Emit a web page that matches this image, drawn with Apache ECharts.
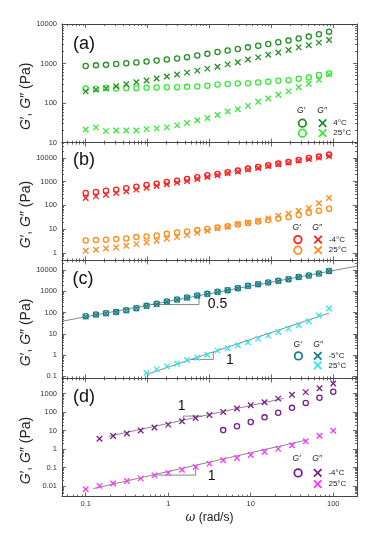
<!DOCTYPE html>
<html>
<head>
<meta charset="utf-8">
<script src="https://cdn.jsdelivr.net/npm/echarts@6/dist/echarts.min.js"></script>
<style>
  html, body { margin: 0; padding: 0; background: #fff; }
  #chart { width: 379px; height: 545px; }
</style>
</head>
<body>
<div id="chart"></div>
<script>
// angular frequency grids (rad/s)
const omega = [0.1, 0.133, 0.176, 0.234, 0.31, 0.411, 0.546, 0.724, 0.961, 1.28, 1.69, 2.25, 2.98,
  3.96, 5.25, 6.97, 9.25, 12.3, 16.3, 21.6, 28.7, 38.1, 50.5, 67, 89];
const omegaD = [0.1, 0.147, 0.215, 0.316, 0.464, 0.681, 1, 1.47, 2.15, 3.16, 4.64, 6.81, 10,
  14.7, 21.5, 31.6, 46.4, 68.1, 100];

// (a)
const gp4a = [868, 900, 925, 970, 1015, 1060, 1125, 1190, 1265, 1345, 1450, 1590, 1760, 1950, 2140,
  2330, 2570, 2820, 3120, 3450, 3800, 4280, 4800, 5500, 6400];
const gpp4a = [198, 219, 235, 267, 300, 335, 373, 420, 472, 530, 590, 662, 745, 830, 950, 1080, 1260,
  1430, 1660, 1910, 2190, 2560, 2900, 3380, 3950];
const gp25a = [232, 228, 240, 233, 237, 237, 243, 247, 251, 253, 257, 262, 275, 294, 305, 312, 318,
  332, 345, 366, 380, 412, 446, 511, 560];
const gpp25a = [21.5, 24.3, 19.5, 20.3, 20.3, 20.3, 21.9, 22.9, 24.3, 27.3, 31.3, 36.6, 42, 50, 61, 70,
  85, 108, 131, 163, 198, 251, 307, 389, 532];

// (b)
const gp4b = [332, 366, 417, 460, 523, 615, 723, 823, 969, 1103, 1297, 1525, 1852, 2110, 2479, 2917,
  3541, 4167, 4903, 5768, 6783, 8231, 10000, 11384, 13830];
const gpp4b = [204, 240, 282, 332, 391, 460, 557, 656, 771, 907, 1067, 1297, 1574, 1852, 2250, 2648,
  3216, 3780, 4590, 5400, 6350, 7710, 9070, 10330, 11760];
const gp25b = [3.32, 3.43, 3.54, 3.78, 4.03, 4.59, 4.9, 5.4, 6.35, 7.23, 7.96, 9.07, 10.2, 11.6, 13.3,
  15.5, 18, 21, 24, 28.2, 32.2, 39.1, 49, 59.6, 72.3];
const gpp25b = [1.22, 1.34, 1.52, 1.68, 1.98, 2.32, 2.73, 3.21, 3.91, 4.59, 5.57, 7, 8.5, 10.7, 12.6,
  16.3, 18.5, 22.5, 28.2, 36.6, 44.4, 57.7, 77.1, 122, 204];

// (c)
const gp5c = [67.6, 81, 93.7, 108, 130, 161, 208, 258, 333, 413, 514, 638, 765, 951, 1140, 1417, 1825,
  2186, 2620, 3140, 3760, 4680, 5600, 6960, 8970];
const gpp5c = [65, 79, 92, 107, 128, 158, 203, 252, 325, 405, 503, 625, 750, 935, 1120, 1390, 1790,
  2150, 2580, 3090, 3700, 4600, 5500, 6850, 8800];
const gpp25c = [0.144, 0.214, 0.296, 0.396, 0.589, 0.759, 1.05, 1.63, 2.1, 2.9, 4.02, 5.98, 8.28, 12.3,
  17.7, 25.4, 39.3, 72.7, 156]; // from omega[6]

// (d)
const gpp4d = [3.72, 5.16, 7.16, 10.3, 14.9, 21.5, 32.4, 48.8, 70.4, 102, 159, 239, 346, 542, 885, 1227,
  2000, 3550]; // from omegaD[1]
const gp4d = [10.8, 17.6, 29.9, 52.9, 93.8, 173, 319, 612, 1277]; // from omegaD[10]
const gpp25d = [0.0069, 0.0104, 0.0139, 0.0192, 0.0267, 0.0385, 0.0512, 0.0771, 0.111, 0.167, 0.252,
  0.335, 0.483, 0.727, 1.05, 1.64, 2.68, 5.37, 9.91];

// guide lines and slope triangles
const fitC1 = [[0.052, 39.5], [194, 15400]];
const slopeC1 = [[0.63, 240], [2.36, 240], [2.36, 627]];
const fitC2 = [[0.55, 0.125], [89, 95]];
const slopeC2 = [[1.91, 0.63], [3.52, 0.63], [3.52, 1.41]];
const fitD1 = [[0.19, 5.0], [25, 560]];
const slopeD1 = [[1.53, 37.4], [1.53, 62], [2.58, 62]];
const fitD2 = [[0.124, 0.0075], [47.7, 3.16]];
const slopeD2 = [[0.65, 0.04], [2.15, 0.04], [2.15, 0.135]];

// tick labels
const xTickLabels = [0.1, 1, 10, 100];
const yLabelsA = [10, 100, 1000, 10000];
const yLabelsB = [1, 10, 100, 1000, 10000];
const yLabelsC = [0.1, 1, 10, 100, 1000, 10000];
const yLabelsD = [0.01, 0.1, 1, 10, 100, 1000];

const FONT = '"Liberation Sans", Arial, sans-serif';
const FRAME = '#444';
const X_MIN = 0.0516, X_MAX = 194;

const panels = [
  { top: 24, h: 118.6, ymin: 10, ymax: 10000, labels: yLabelsA },
  { top: 142.6, h: 117.8, ymin: 0.478, ymax: 44300, labels: yLabelsB },
  { top: 260.4, h: 118, ymin: 0.0805, ymax: 28600, labels: yLabelsC },
  { top: 378.4, h: 118.2, ymin: 0.00275, ymax: 6750, labels: yLabelsD }
];

function logMinor(lo, hi) {
  const out = [];
  for (let e = -4; e <= 5; e++) {
    for (let m = 2; m <= 9; m++) {
      const v = +(m * Math.pow(10, e)).toPrecision(3);
      if (v > lo && v < hi) out.push(v);
    }
  }
  return out;
}

// inner panels carry ticks every 3/4 decade
function quarterTicks(lo, hi) {
  const major = [], minor = [];
  for (let k = -3; k <= 4; k++) {
    const base = 0.1 * Math.pow(10, 0.75 * k);
    if (base >= lo && base <= hi) major.push(base);
    for (let m = 2; m <= 9; m++) {
      const v = base * Math.pow(m, 0.75);
      if (v > lo && v < hi) minor.push(v);
    }
  }
  return { major, minor };
}
const inner = quarterTicks(X_MIN, X_MAX);

function axis(gi, position, ticks, len, labels, min, max) {
  const isX = position === 'top' || position === 'bottom';
  return {
    type: 'log', gridIndex: gi, position, min, max, silent: true,
    axisLine: { show: len > 3, onZero: false, lineStyle: { color: FRAME, width: 1 } },
    axisTick: { show: true, inside: true, length: len, customValues: ticks,
      lineStyle: { color: FRAME, width: 0.8 } },
    axisLabel: labels ? { show: true, customValues: labels, margin: isX ? 3 : 5,
      formatter: v => String(+Number(v).toPrecision(6)),
      fontSize: 7.5, fontFamily: FONT, color: '#333' } : { show: false },
    splitLine: { show: false }
  };
}

const xAxes = [], yAxes = [];
panels.forEach((p, gi) => {
  const last = gi === panels.length - 1;
  const bottom = last ? { major: xTickLabels, minor: logMinor(X_MIN, X_MAX) } : inner;
  const xb = axis(gi, 'bottom', bottom.major, 4, last ? xTickLabels : null, X_MIN, X_MAX);
  if (last) {
    Object.assign(xb, {
      name: '{i|ω} (rad/s)', nameLocation: 'middle', nameGap: 15, nameMoveOverlap: false,
      nameTextStyle: { fontSize: 12, fontFamily: FONT, color: '#222',
        rich: { i: { fontSize: 12, fontFamily: 'DejaVu Serif', fontStyle: 'italic', color: '#222' } } }
    });
  }
  xAxes.push(xb,
    axis(gi, 'bottom', bottom.minor, 2, null, X_MIN, X_MAX),
    axis(gi, 'top', inner.major, 4, null, X_MIN, X_MAX),
    axis(gi, 'top', inner.minor, 2, null, X_MIN, X_MAX));

  const yMinor = logMinor(p.ymin, p.ymax);
  const yl = axis(gi, 'left', p.labels, 4, p.labels, p.ymin, p.ymax);
  Object.assign(yl, {
    name: '{i|G}′, {i|G}″ (Pa)', nameLocation: 'middle', nameRotate: 90, nameGap: 29,
    nameMoveOverlap: false,
    nameTextStyle: { fontSize: 14, fontFamily: FONT, color: '#222', padding: [0, 26, 0, 0],
      rich: { i: { fontSize: 14, fontFamily: FONT, fontStyle: 'italic', color: '#222' } } }
  });
  yAxes.push(yl,
    axis(gi, 'left', yMinor, 2, null, p.ymin, p.ymax),
    axis(gi, 'right', p.labels, 4, null, p.ymin, p.ymax),
    axis(gi, 'right', yMinor, 2, null, p.ymin, p.ymax));
});

const CIRCLE = 'circle';
const CROSS = 'path://M0,0L10,10M10,0L0,10';

function pts(xs, ys) { return ys.map((y, i) => [xs[i], y]); }

function scatter(name, gi, xs, ys, symbol, color) {
  const isCross = symbol === CROSS;
  return {
    type: 'scatter', name, xAxisIndex: gi * 4, yAxisIndex: gi * 4, data: pts(xs, ys),
    symbol, symbolSize: isCross ? 5.5 : 5.2, silent: true, z: isCross ? 4 : 3,
    itemStyle: { color: 'rgba(0,0,0,0)', borderColor: color, borderWidth: 1.3, opacity: 1 }
  };
}

function guide(gi, data) {
  return {
    type: 'line', xAxisIndex: gi * 4, yAxisIndex: gi * 4, data, symbol: 'none', silent: true, z: 2,
    lineStyle: { color: '#6a6a6a', width: 0.8 }
  };
}

const C = {
  dkgreen: '#229022', ltgreen: '#3ae83a', red: '#ff1f1f', orange: '#ff8c1a',
  teal: '#167f86', cyan: '#33e4ee', purple: '#7b1d8e', magenta: '#ff33ff'
};

const series = [
  scatter('aGp4', 0, omega, gp4a, CIRCLE, C.dkgreen),
  scatter('aGpp4', 0, omega, gpp4a, CROSS, C.dkgreen),
  scatter('aGp25', 0, omega, gp25a, CIRCLE, C.ltgreen),
  scatter('aGpp25', 0, omega, gpp25a, CROSS, C.ltgreen),
  scatter('bGp4', 1, omega, gp4b, CIRCLE, C.red),
  scatter('bGpp4', 1, omega, gpp4b, CROSS, C.red),
  scatter('bGp25', 1, omega, gp25b, CIRCLE, C.orange),
  scatter('bGpp25', 1, omega, gpp25b, CROSS, C.orange),
  guide(2, fitC1), guide(2, slopeC1), guide(2, fitC2), guide(2, slopeC2),
  scatter('cGp5', 2, omega, gp5c, CIRCLE, C.teal),
  scatter('cGpp5', 2, omega, gpp5c, CROSS, C.teal),
  scatter('cGpp25', 2, omega.slice(6), gpp25c, CROSS, C.cyan),
  guide(3, fitD1), guide(3, slopeD1), guide(3, fitD2), guide(3, slopeD2),
  scatter('dGp4', 3, omegaD.slice(10), gp4d, CIRCLE, C.purple),
  scatter('dGpp4', 3, omegaD.slice(1), gpp4d, CROSS, C.purple),
  scatter('dGpp25', 3, omegaD, gpp25d, CROSS, C.magenta)
];

// legend keys: [series, icon centre x, centre y, text]
const legendKeys = [
  ['aGp4', 301.5, 122.3, ''], ['aGpp4', 321.7, 122.3, '4°C'],
  ['aGp25', 301.5, 132.3, ''], ['aGpp25', 321.7, 132.3, '25°C'],
  ['bGp4', 297, 238.7, ''], ['bGpp4', 317.2, 238.7, '-4°C'],
  ['bGp25', 297, 249.3, ''], ['bGpp25', 317.2, 249.3, '25°C'],
  ['cGp5', 297.5, 355, ''], ['cGpp5', 316.8, 355, '-5°C'],
  ['cGpp25', 316.8, 364.5, '25°C'],
  ['dGp4', 297.2, 472, ''], ['dGpp4', 316.8, 472, '-4°C'],
  ['dGpp25', 316.8, 483.3, '25°C']
];
const legends = legendKeys.map(([name, cx, cy, text]) => ({
  data: [name], left: cx - 3.75, top: cy - 3.75, itemWidth: 7.5, itemHeight: 7.5, padding: 0,
  selectedMode: false, formatter: () => text,
  itemStyle: { borderWidth: 1.8 },
  textStyle: { fontSize: 8, fontFamily: FONT, color: '#222', padding: [0, 0, 0, 2] }
}));

// header rows above the legend keys
const headers = [[301, 111], [296.5, 228], [297.5, 344.3], [296.5, 458.7]];
const headerX2 = [322, 317, 318, 317];
const graphics = [];
headers.forEach(([x, y], i) => {
  graphics.push({ type: 'text', x, y, silent: true, style: { text: 'G′', fontSize: 8.5, fontStyle: 'italic',
    fontFamily: FONT, fill: '#222', align: 'center', verticalAlign: 'middle' } });
  graphics.push({ type: 'text', x: headerX2[i], y, silent: true, style: { text: 'G″', fontSize: 8.5,
    fontStyle: 'italic', fontFamily: FONT, fill: '#222', align: 'center', verticalAlign: 'middle' } });
});
// panel tags and slope labels
[['(a)', 84, 44, 18], ['(b)', 84, 160, 18], ['(c)', 83, 279.5, 18], ['(d)', 84, 397, 18],
 ['0.5', 217.5, 304.5, 14], ['1', 230, 360, 14], ['1', 181.7, 406.3, 14], ['1', 211.7, 476.3, 14]]
  .forEach(([text, x, y, size]) => graphics.push({ type: 'text', x, y, silent: true,
    style: { text, fontSize: size, fontFamily: FONT, fill: '#111', align: 'center', verticalAlign: 'middle' } }));

const chart = echarts.init(document.getElementById('chart'), null, { renderer: 'canvas' });
chart.setOption({
  animation: false,
  backgroundColor: '#fff',
  grid: panels.map(p => ({ left: 62, right: 22, top: p.top, height: p.h, containLabel: false,
    outerBoundsMode: 'none' })),
  xAxis: xAxes,
  yAxis: yAxes,
  legend: legends,
  series,
  graphic: graphics
});
</script>
</body>
</html>
